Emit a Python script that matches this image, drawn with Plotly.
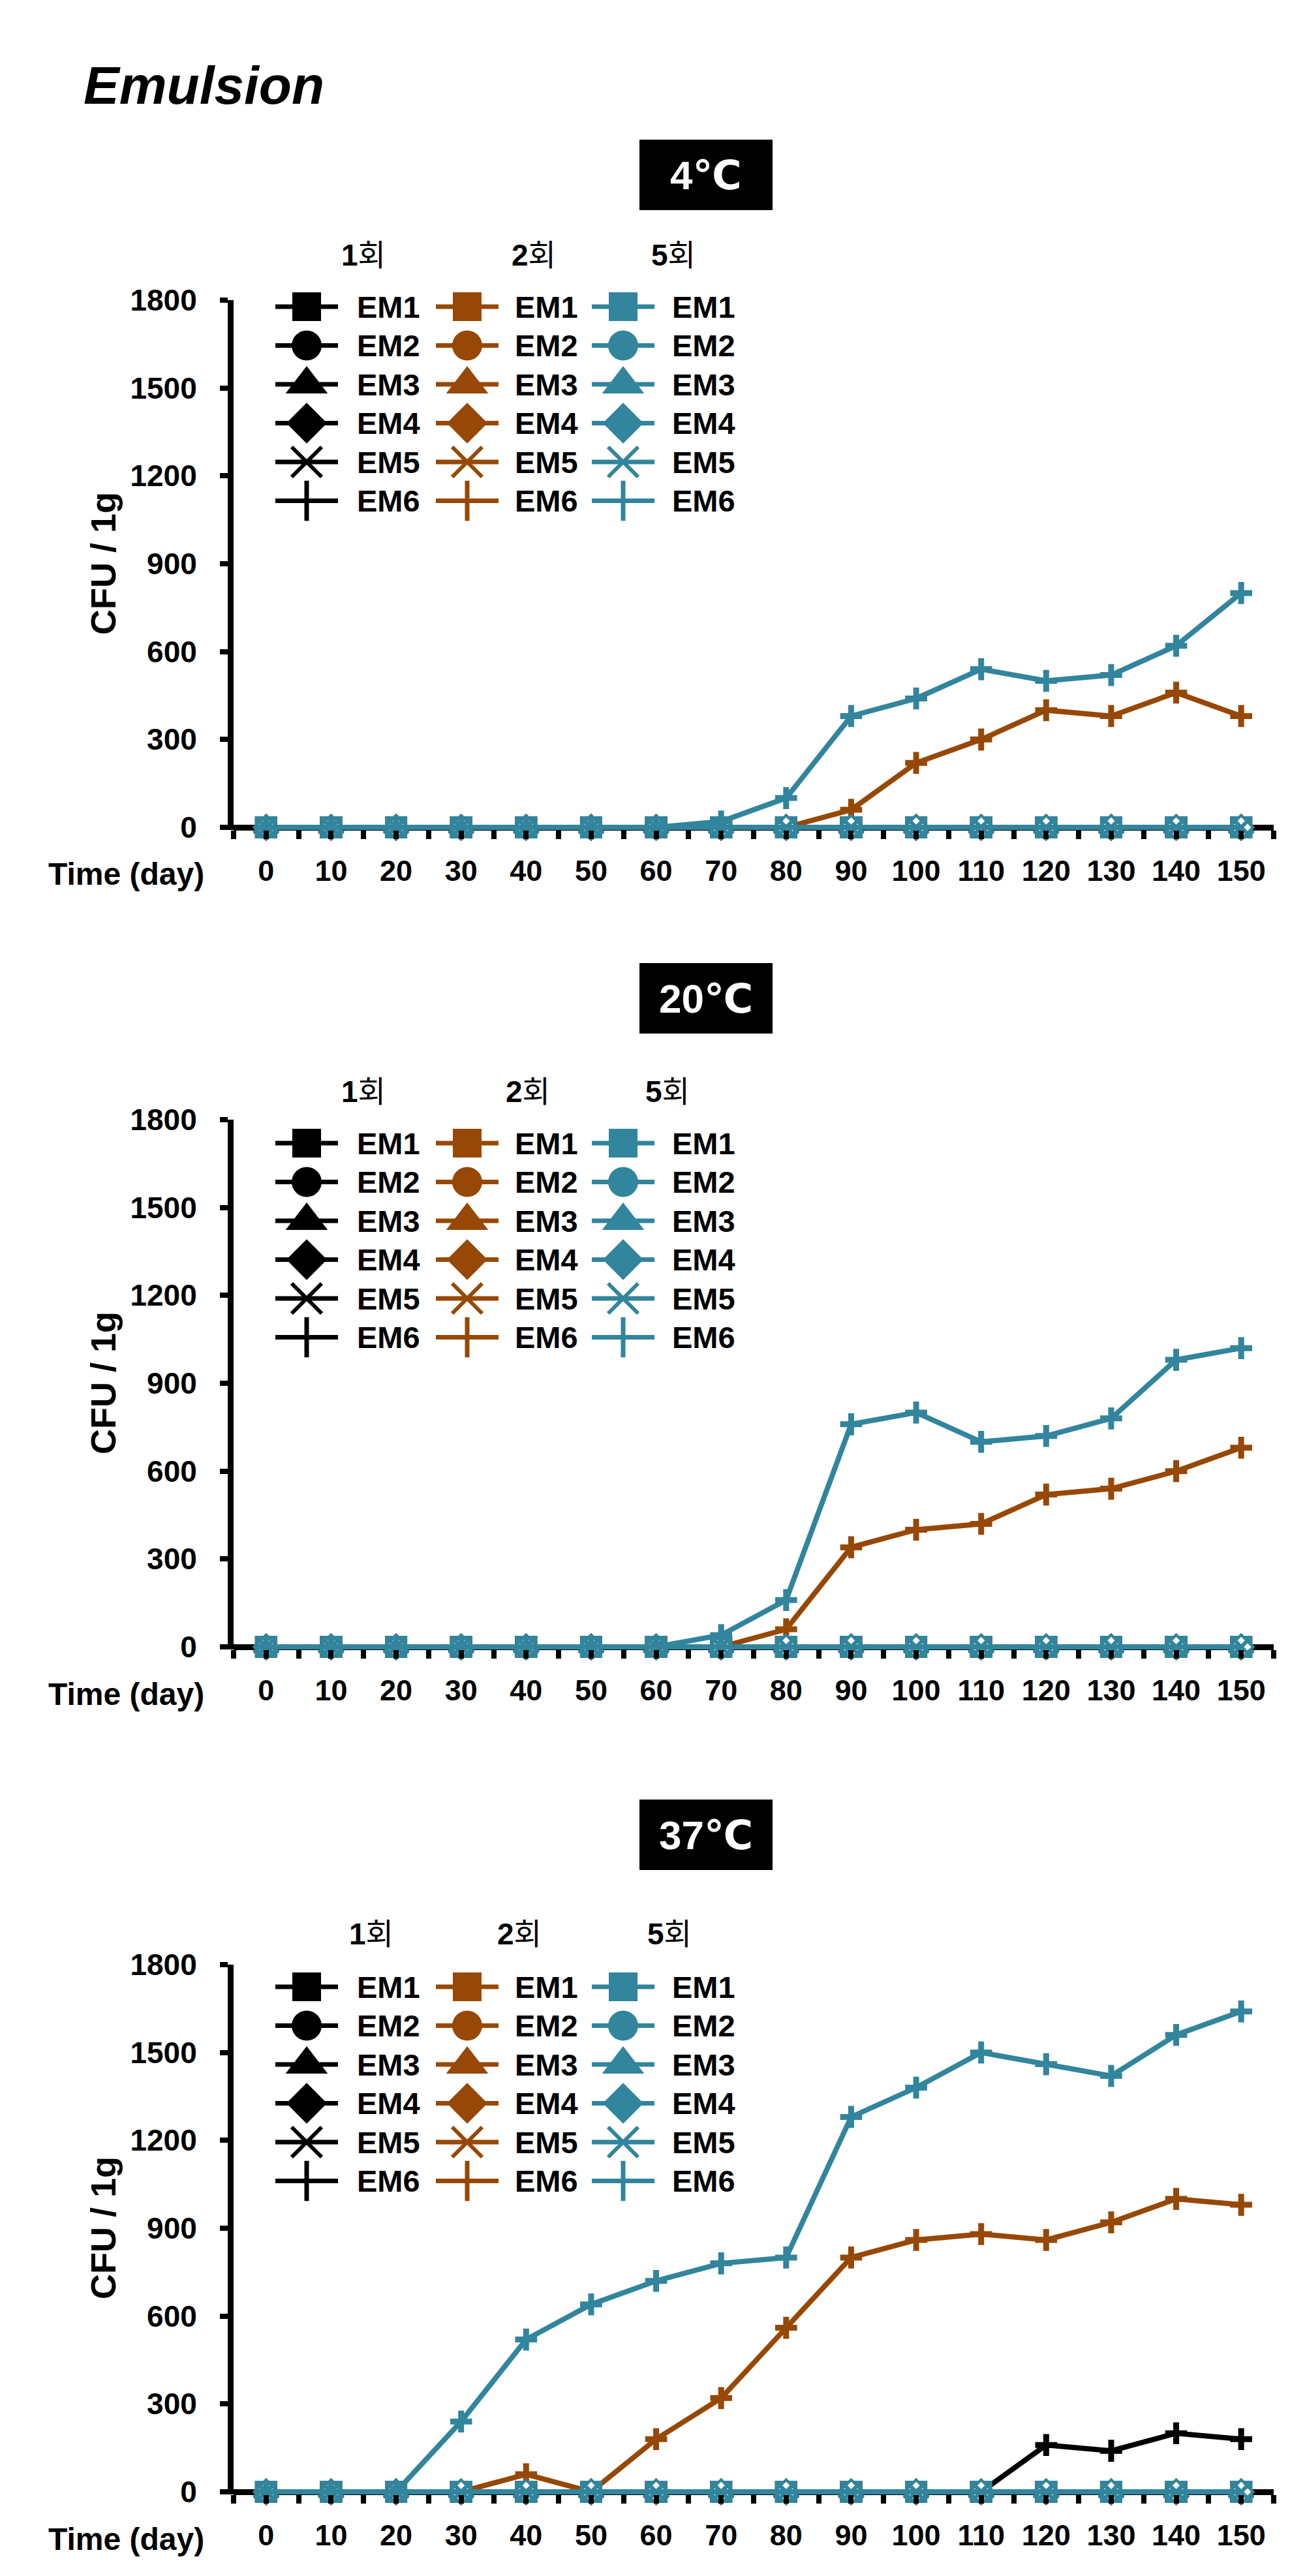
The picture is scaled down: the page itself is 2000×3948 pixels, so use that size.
import plotly.graph_objects as go

W, H = 2000, 3948

# ---------------- data ----------------
days = [0, 10, 20, 30, 40, 50, 60, 70, 80, 90, 100, 110, 120, 130, 140, 150]
day_labels = ["0", "10", "20", "30", "40", "50", "60", "70", "80", "90",
              "100", "110", "120", "130", "140", "150"]
y_ticks = [0, 300, 600, 900, 1200, 1500, 1800]
series_names = ["EM1", "EM2", "EM3", "EM4", "EM5", "EM6"]
group_names = ["1회", "2회", "5회"]
group_colors = ["#000000", "#974806", "#31859C"]
panel_titles = ["4℃", "20℃", "37℃"]

# EM1–EM5 read as 0 CFU at every day, in every panel and group
em_zero = [0, 0, 0, 0, 0, 0, 0, 0, 0, 0, 0, 0, 0, 0, 0, 0]

# EM6 series
c4_g1_em6 = [0, 0, 0, 0, 0, 0, 0, 0, 0, 0, 0, 0, 0, 0, 0, 0]
c4_g2_em6 = [0, 0, 0, 0, 0, 0, 0, 0, 0, 60, 220, 300, 400, 380, 460, 380]
c4_g5_em6 = [0, 0, 0, 0, 0, 0, 0, 20, 100, 380, 440, 540, 500, 520, 620, 800]

c20_g1_em6 = [0, 0, 0, 0, 0, 0, 0, 0, 0, 0, 0, 0, 0, 0, 0, 0]
c20_g2_em6 = [0, 0, 0, 0, 0, 0, 0, 0, 60, 340, 400, 420, 520, 540, 600, 680]
c20_g5_em6 = [0, 0, 0, 0, 0, 0, 0, 40, 160, 760, 800, 700, 720, 780, 980, 1020]

c37_g1_em6 = [0, 0, 0, 0, 0, 0, 0, 0, 0, 0, 0, 0, 160, 140, 200, 180]
c37_g2_em6 = [0, 0, 0, 0, 60, 0, 180, 320, 560, 800, 860, 880, 860, 920, 1000, 980]
c37_g5_em6 = [0, 0, 0, 240, 520, 640, 720, 780, 800, 1280, 1380, 1500, 1460, 1420, 1560, 1640]

panel_em6 = [
    [c4_g1_em6, c4_g2_em6, c4_g5_em6],
    [c20_g1_em6, c20_g2_em6, c20_g5_em6],
    [c37_g1_em6, c37_g2_em6, c37_g5_em6],
]

# ---------------- layout constants (pixels) ----------------
FONT = "Liberation Sans, Arial, DejaVu Sans, Noto Sans CJK KR, sans-serif"
base_px = [1260, 2516, 3811]          # y pixel of value 0
span_px = 808                          # pixels from 0 to 1800
YMIN = -10
box_px = [(206, 314), (1468, 1576), (2750, 2858)]
box_x = (972, 1176)
header_y = [383, 1665, 2956]
header_x = [[549, 810, 1024], [549, 801, 1015], [561, 788, 1018]]
legend_row0 = [462, 1744, 3037]
legend_dy = 59.5
leg_line_x = [(414, 510), (660, 756), (899, 995)]
leg_text_x = [537, 779, 1020]
plot_left, plot_right = 350, 1944

def px(x):
    return x / W

def py(y):
    return 1 - y / H

data_symbols = ["square", "circle", "triangle-up", "diamond", "x-thin", "cross-thin"]
data_sizes = [30, 30, 32, 28, 28, 24]
leg_symbols = data_symbols
leg_sizes = [44, 46, 56, 48, 46, 44]
leg_lw = [0, 0, 0, 0, 6, 7]

fig = go.Figure()

layout_axes = {}
annotations = []
shapes = []

for p in range(3):
    xa = "x" if p == 0 else f"x{p+1}"
    ya = "y" if p == 0 else f"y{p+1}"
    base = base_px[p]
    unit = span_px / 1800.0
    bottom = base - YMIN * unit
    top = base - span_px

    for g in range(3):
        c = group_colors[g]
        for s in range(6):
            vals = panel_em6[p][g] if s == 5 else em_zero
            if s < 4:
                mk = dict(symbol=data_symbols[s], size=data_sizes[s], color="white",
                          line=dict(color=c, width=4), opacity=1)
            else:
                mk = dict(symbol=data_symbols[s], size=data_sizes[s], color=c,
                          line=dict(color=c, width=6 if s == 4 else 9), opacity=1)
            fig.add_trace(go.Scatter(
                x=days, y=vals, mode="lines+markers", xaxis=xa, yaxis=ya,
                name=f"{group_names[g]} {series_names[s]}",
                line=dict(color=c, width=8), marker=mk,
                cliponaxis=False, showlegend=False))

    xkey = "xaxis" if p == 0 else f"xaxis{p+1}"
    ykey = "yaxis" if p == 0 else f"yaxis{p+1}"
    layout_axes[xkey] = dict(
        domain=[px(plot_left), px(plot_right)], anchor=ya, range=[-5, 155],
        showline=False, showgrid=False, zeroline=False,
        tickmode="array", tickvals=days, ticktext=day_labels,
        ticks="outside", ticklen=13, tickwidth=8, tickcolor="black",
        minor=dict(dtick=5, tick0=0, ticks="outside", ticklen=13, tickwidth=8,
                   tickcolor="black", showgrid=False),
        tickfont=dict(family=FONT, size=45, color="black", weight="bold"),
        ticklabelstandoff=10, automargin=False, fixedrange=True)
    layout_axes[ykey] = dict(
        domain=[py(bottom), py(top)], anchor=xa, range=[YMIN, 1800],
        showline=True, linewidth=9, linecolor="black", mirror=False,
        showgrid=False, zeroline=True, zerolinewidth=9, zerolinecolor="black",
        tickmode="array", tickvals=y_ticks, ticktext=[str(v) for v in y_ticks],
        ticks="outside", ticklen=12, tickwidth=8, tickcolor="black",
        tickfont=dict(family=FONT, size=46, color="black", weight="bold"),
        ticklabelstandoff=26, automargin=False, fixedrange=True)

    # y-axis title
    annotations.append(dict(
        text="CFU / 1g", x=px(150), y=py(base - span_px / 2), xref="paper", yref="paper",
        textangle=-90, showarrow=False, xanchor="center", yanchor="middle",
        font=dict(family=FONT, size=54, color="black", weight="bold")))
    # x-axis title in tick-label row
    annotations.append(dict(
        text="Time (day)", x=px(185), y=py(base + 72), xref="paper", yref="paper",
        showarrow=False, xanchor="center", yanchor="middle",
        font=dict(family=FONT, size=48, color="black", weight="bold")))
    # title box
    b0, b1 = box_px[p]
    shapes.append(dict(type="rect", xref="paper", yref="paper",
                       x0=px(box_x[0]), x1=px(box_x[1]), y0=py(b1), y1=py(b0),
                       fillcolor="black", line=dict(width=0)))
    annotations.append(dict(
        text=panel_titles[p], x=px((box_x[0] + box_x[1]) / 2), y=py((b0 + b1) / 2),
        xref="paper", yref="paper", showarrow=False, xanchor="center", yanchor="middle",
        font=dict(family=FONT, size=62, color="white", weight="bold")))

    # manual legend
    rows = [legend_row0[p] + legend_dy * r for r in range(6)]
    for g in range(3):
        c = group_colors[g]
        annotations.append(dict(
            text=f"<b>{group_names[g][0]}</b>{group_names[g][1:]}",
            x=px(header_x[p][g]), y=py(header_y[p]), xref="paper", yref="paper",
            showarrow=False, xanchor="center", yanchor="middle",
            font=dict(family=FONT, size=46, color="black")))
        lx, ly = [], []
        for r in rows:
            lx += [leg_line_x[g][0], leg_line_x[g][1], None]
            ly += [r, r, None]
        fig.add_trace(go.Scatter(x=lx, y=ly, mode="lines", xaxis="x4", yaxis="y4",
                                 line=dict(color=c, width=7), showlegend=False,
                                 hoverinfo="skip", cliponaxis=False))
        xc = (leg_line_x[g][0] + leg_line_x[g][1]) / 2
        fig.add_trace(go.Scatter(
            x=[xc] * 6, y=rows, mode="markers", xaxis="x4", yaxis="y4",
            marker=dict(symbol=leg_symbols, size=leg_sizes, color=c, opacity=1,
                        line=dict(color=c, width=leg_lw)),
            showlegend=False, hoverinfo="skip", cliponaxis=False))
        for r, nm in zip(rows, series_names):
            annotations.append(dict(
                text=nm, x=px(leg_text_x[g]), y=py(r), xref="paper", yref="paper",
                showarrow=False, xanchor="left", yanchor="middle",
                font=dict(family=FONT, size=47, color="black", weight="bold")))

# overlay pixel axes for the legend keys
layout_axes["xaxis4"] = dict(domain=[0, 1], range=[0, W], visible=False, anchor="y4",
                             fixedrange=True)
layout_axes["yaxis4"] = dict(domain=[0, 1], range=[H, 0], visible=False, anchor="x4",
                             fixedrange=True)

annotations.append(dict(
    text="Emulsion", x=px(118), y=py(122), xref="paper", yref="paper",
    showarrow=False, xanchor="left", yanchor="middle",
    font=dict(family=FONT, size=82, color="black", weight="bold", style="italic")))

fig.update_layout(
    template="none", width=W, height=H,
    margin=dict(l=0, r=0, t=0, b=0, pad=0),
    paper_bgcolor="white", plot_bgcolor="rgba(0,0,0,0)",
    showlegend=False, annotations=annotations, shapes=shapes,
    **layout_axes)

fig.write_html("out.html")
